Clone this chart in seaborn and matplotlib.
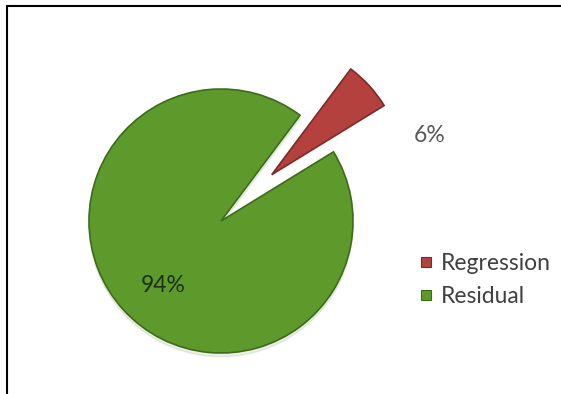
import matplotlib
matplotlib.use("Agg")
import matplotlib.pyplot as plt
from matplotlib.lines import Line2D
from matplotlib.patches import Shadow
import seaborn as sns

# Variance decomposition shares
categories = ["Regression", "Residual"]
shares = [6, 94]
slice_colors = ["#b5413e", "#5e9a2b"]
edge_colors = ["#7c2a27", "#3e6a1a"]

sns.set_theme(style="white")
plt.rcParams["font.family"] = ["Lato", "DejaVu Sans"]

W, H, DPI = 561, 394, 100
fig = plt.figure(figsize=(W / DPI, H / DPI), dpi=DPI)
ax = fig.add_axes([0, 0, 1, 1])

# pie geometry in pixel terms: centre and radius
cx, cy, rad = 221, 221, 132
span = 360 * shares[0] / 100
start = 42.4 - span / 2

wedges, _ = ax.pie(
    shares,
    colors=slice_colors,
    explode=[0.52, 0],
    startangle=start,
    counterclock=True,
    radius=1.0,
    wedgeprops=dict(linewidth=1.2),
)
for w, ec in zip(wedges, edge_colors):
    w.set_edgecolor(ec)

# soft shadow under the large slice
sh = Shadow(wedges[1], 0.0, -0.02, shade=0.3, alpha=0.1)
sh.set_zorder(wedges[1].get_zorder() - 0.1)
ax.add_patch(sh)

ax.set_xlim(-cx / rad, (W - cx) / rad)
ax.set_ylim(-(H - cy) / rad, cy / rad)
ax.set_aspect("equal", adjustable="box")
ax.axis("off")

# percentage labels
ax.text(1.58, 0.65, f"{shares[0]}%", ha="center", va="center",
        fontsize=16.5, color="#595959")
ax.text(-0.44, -0.485, f"{shares[1]}%", ha="center", va="center",
        fontsize=16.5, color="#1d2f10")

handles = [Line2D([], [], marker="s", linestyle="none", markersize=7.5,
                  markerfacecolor=c, markeredgecolor=e, markeredgewidth=0.8)
           for c, e in zip(slice_colors, edge_colors)]
fig.legend(handles, categories, loc="center left",
           bbox_to_anchor=(397 / W, 1 - 280 / H), frameon=False,
           fontsize=16.5, handlelength=0.7, handletextpad=0.3,
           labelspacing=0.55, labelcolor="#404040")

# frame lines along the top and left edges
fig.add_artist(Line2D([7 / W, 1], [1 - 5.7 / H, 1 - 5.7 / H],
                      transform=fig.transFigure, color="black", linewidth=1.5))
fig.add_artist(Line2D([7 / W, 7 / W], [0, 1 - 5.7 / H],
                      transform=fig.transFigure, color="black", linewidth=1.5))

fig.savefig("out.png", dpi=DPI)
